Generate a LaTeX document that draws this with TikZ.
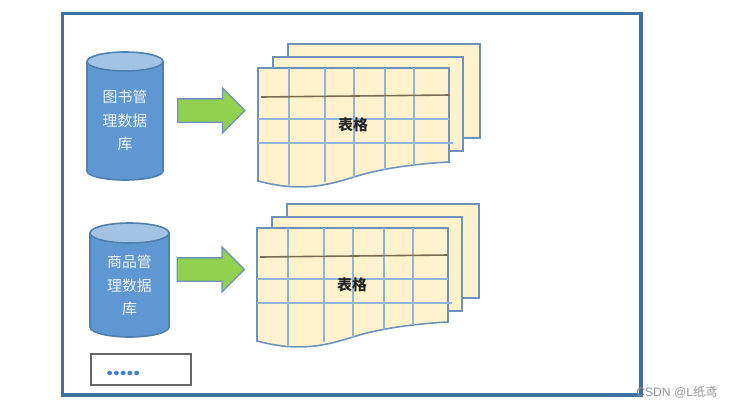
\documentclass[tikz,border=0pt]{standalone}
\usepackage{fontspec}
\usepackage{xcolor}
\usetikzlibrary{shapes.arrows}
\setmainfont{Liberation Sans}
\newfontfamily\cjk{Noto Sans CJK SC}
\newfontfamily\dotfont{Poppins}
\definecolor{framblue}{HTML}{41709F}
\definecolor{dbbody}{HTML}{5F97D2}
\definecolor{dbtop}{HTML}{A3C3E5}
\definecolor{dbedge}{HTML}{4F80AE}
\definecolor{arrowgreen}{HTML}{92D050}
\definecolor{sheetfill}{HTML}{FFF2CC}
\definecolor{sheetedge}{HTML}{6F92BC}
\definecolor{gridblue}{HTML}{8FB5DC}
\definecolor{headbrown}{HTML}{7A6C50}
\definecolor{dotblue}{HTML}{3F80C6}

\begin{document}
\begin{tikzpicture}[x=0.75pt, y=-0.75pt,
  sheet/.style={fill=sheetfill, draw=sheetedge, line width=1.2pt},
  gridline/.style={draw=gridblue, line width=1.3pt},
  dbshape/.style={fill=dbbody, draw=dbedge, line width=1.2pt},
  dbcap/.style={fill=dbtop, draw=dbedge, line width=1.2pt},
  dblabel/.style={align=center, text=white!88!dbbody, font=\cjk\fontsize{11.2}{17.6}\selectfont, inner sep=0pt},
  bigarrow/.style={single arrow, fill=arrowgreen, draw=sheetedge, line width=1pt, inner sep=0pt,
    minimum height=50.5pt, single arrow head extend=8.1pt,
    single arrow head indent=0pt, single arrow tip angle=90},
  tablelabel/.style={font=\cjk\bfseries\fontsize{11.2}{13}\selectfont, text=black!85, inner sep=0pt}]
\useasboundingbox (0,0) rectangle (732,408);
% —— 外框 ——
\draw[line width=2.4pt, framblue] (62.5,13.5) rectangle (641,395);
% —— 两个数据库 ——
\draw[dbshape] (87,61.5) -- (87,171) arc[start angle=180, end angle=0, x radius=38, y radius=9] -- (163,61.5);
\draw[dbcap] (125,61.5) ellipse[x radius=38, y radius=9.5];
\node (dbbook) [dblabel] at (125,120.5){图书管\\理数据\\库};
\draw[dbshape] (90,233) -- (90,327) arc[start angle=180, end angle=0, x radius=39.5, y radius=10] -- (169,233);
\draw[dbcap] (129.5,233) ellipse[x radius=39.5, y radius=10];
\node (dbgoods) [dblabel] at (129.5,285.5){商品管\\理数据\\库};
% —— 箭头 ——
\node (arrowbook) [bigarrow] at (205.5,110.5){\rule{0pt}{16.5pt}};
\node (arrowgoods) [bigarrow] at (205,269.5){\rule{0pt}{16.5pt}};
% —— 两叠表格 ——
\foreach \sx/\sy/\nm in {0/0/book, -1/160/goods}{
  \begin{scope}[shift={(\sx,\sy)}]
    \draw[sheet] (288,44) rectangle (480,138);
    \draw[sheet] (273,57) rectangle (463,151);
    \draw[sheet] (258,68) -- (449,68) -- (449,162) .. controls (410,164) and (375,170) .. (354,177)
      .. controls (325,186) and (300,192) .. (258,181) -- cycle;
    \foreach \gx/\gy in {289/184.5, 325/182, 354/177.5, 385/170, 414/165}{
      \draw[gridline] (\gx,68) -- (\gx,\gy);
    }
    \draw[gridline] (258,119) -- (449,119);
    \draw[gridline] (258,143) -- (453,143);
    \draw[headbrown, line width=1.2pt] (261,97) -- (449,95);
    \node (table\nm) [tablelabel] at (353,124.5){表格};
  \end{scope}
}
% —— 省略框 ——
\node (morebox) [draw=black!60, line width=1pt, minimum width=75pt, minimum height=23.25pt, inner sep=0pt] at (141,369.5){};
\node (moredots) [anchor=base west, text=dotblue, font=\dotfont\bfseries\fontsize{18}{20}\selectfont, inner sep=0pt] at (106,375.5){.....};
% —— 水印 ——
\node (mark) [anchor=west, text=black!42, font=\fontsize{9.1}{11}\selectfont, inner sep=0pt] at (636,392){CSDN @L{\cjk 纸鸢}};
\end{tikzpicture}
\end{document}
